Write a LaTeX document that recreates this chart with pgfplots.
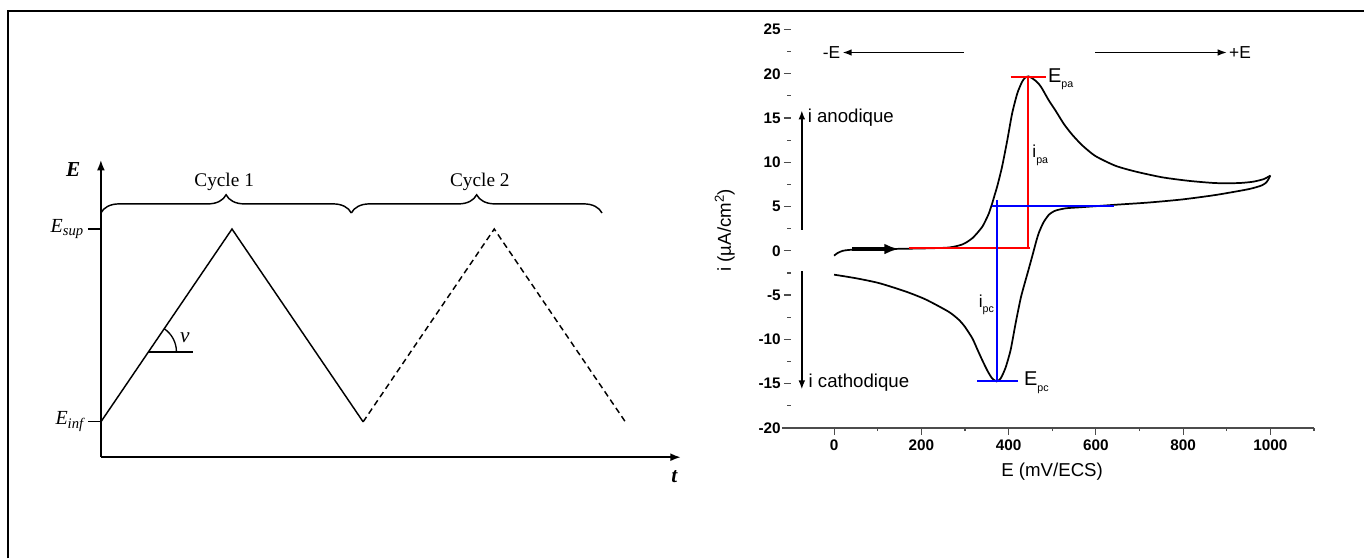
\documentclass[border=0pt]{standalone}
\usepackage{fontspec}
\setmainfont{Liberation Sans}
\newfontfamily\serif{Liberation Serif}
\usepackage{pgfplots}
\pgfplotsset{compat=1.18}
\usetikzlibrary{arrows.meta,decorations.pathreplacing}

\newcommand\sz[1]{\fontsize{#1}{#1}\selectfont}

\begin{document}
\begin{tikzpicture}[x=0.75pt,y=0.75pt]
\path (0,0) rectangle (1365,559);
% frame
\draw[line width=2.2pt] (8,0) -- (8,548) -- (1365,548);
\coordinate (L) at (101,101.3);
\coordinate (R) at (782.6,130.7);

% ---- left: potential waveform
\begin{axis}[
  at={(L)}, anchor=south west,
  scale only axis, width=435.5pt, height=223.3pt,
  xmin=0, xmax=4.424, ymin=-0.1834, ymax=1.359,
  axis lines*=left,
  x axis line style={line width=1.4pt,-{Latex[length=8pt,width=6pt]}},
  y axis line style={line width=1.4pt,-{Latex[length=8pt,width=6pt]}},
  xtick=\empty,
  ytick={0,1},
  yticklabels={{\serif\itshape E\raisebox{-0.4ex}{\sz{11}inf}},{\serif\itshape E\raisebox{-0.4ex}{\sz{11}sup}}},
  yticklabel style={font=\serif\sz{15}},
  ytick pos=left, tick align=outside, major tick length=9.75pt,
  tick style={line width=0.9pt,black},
  clip=false,
]
\addplot[black, line width=1.1pt] coordinates {(0,0) (1,1) (2,0)};
\addplot[black, line width=1.1pt, dash pattern=on 4.5pt off 3pt] coordinates {(2,0) (3,1) (4,0)};
\draw[line width=1.1pt, decorate, decoration={brace, amplitude=13.7pt}] (axis cs:0,1.083) -- (axis cs:1.91,1.083);
\draw[line width=1.1pt, decorate, decoration={brace, amplitude=13.7pt}] (axis cs:1.91,1.083) -- (axis cs:3.822,1.083);
\node[font=\serif\sz{14.5}] at (axis cs:0.94,1.244) {Cycle 1};
\node[font=\serif\sz{14.5}] at (axis cs:2.89,1.244) {Cycle 2};
\draw[line width=1.1pt] (axis cs:0.363,0.363) -- (axis cs:0.699,0.363);
\draw[line width=1pt] (axis cs:0.363,0.363) ++(0:21pt) arc[start angle=0, end angle=56, radius=21pt];
\node[font=\serif\itshape\sz{16}] at (axis cs:0.64,0.435) {ν};
\node[font=\serif\bfseries\itshape\sz{16}] at (axis cs:-0.211,1.311) {E};
\node[font=\serif\bfseries\itshape\sz{16}] at (axis cs:4.373,-0.282) {t};
\end{axis}

% ---- right: cyclic voltammogram
\begin{axis}[
  at={(R)}, anchor=south west,
  scale only axis, width=399.6pt, height=299.1pt,
  xmin=-120, xmax=1100, ymin=-20, ymax=25,
  axis x line*=bottom, axis y line*=left,
  y axis line style={draw=none},
  x axis line style={line width=1.3pt, draw=black!70},
  xtick={0,200,...,1000}, minor xtick={100,300,...,1100},
  ytick={-20,-15,...,25}, minor ytick={-17.5,-12.5,...,22.5},
  tick align=outside, major tick length=5.25pt, minor tick length=2.5pt,
  tick style={line width=0.9pt, black!70},
  y tick style={xshift=6.75pt},
  /pgf/number format/assume math mode=true,
  /pgf/number format/1000 sep={},
  ticklabel style={font=\bfseries\sz{11.5}},
  yticklabel style={xshift=8pt},
  xlabel={E (mV/ECS)},
  ylabel={i (µA/cm\textsuperscript{2})},
  label style={font=\sz{14}},
  xlabel style={at={(axis description cs:0.508,-0.111)}, anchor=center},
  ylabel style={at={(axis description cs:-0.107,0.496)}, anchor=center},
  clip=false,
]
% forward scan
\addplot[black, line width=1.3pt, smooth, tension=0.4] coordinates {
(0,-0.55)(8,-0.25)(20,0.0)(35,0.1)(60,0.15)(100,0.18)(150,0.22)(200,0.26)
(245,0.32)(265,0.38)(280,0.52)(294,0.72)(305,1.0)(317,1.43)(328,2.0)(340,2.74)
(348,3.5)(355,4.25)(362,5.3)(368,6.3)(374,7.3)(385,9.5)(397,12.5)(408,15.5)
(420,17.8)(431,19.1)(438,19.55)(445,19.7)(452,19.55)(462,19.2)(470,18.8)(477,18.3)
(492,17.0)(508,15.8)(527,14.3)(546,13.1)(569,11.9)(599,10.7)(645,9.6)(691,8.95)
(752,8.3)(813,7.9)(874,7.65)(927,7.65)(960,7.8)(985,8.1)(1000,8.5)};
% reverse scan
\addplot[black, line width=1.3pt, smooth, tension=0.4] coordinates {
(1000,8.5)(992,7.8)(981,7.4)(950,6.96)(874,6.3)(798,5.8)(721,5.45)(645,5.2)
(569,4.93)(531,4.8)(508,4.55)(500,4.35)(492,4.06)(481,3.3)(475,2.7)(469,2.0)
(464,1.2)(458,0.1)(452,-1.0)(443,-2.6)(435,-4.0)(427.5,-5.4)(416,-8.2)(404.6,-11.2)
(393,-13.2)(382,-14.4)(372.5,-14.75)(362,-14.4)(352,-13.6)(340,-12.4)(328,-11.1)
(317,-9.9)(300,-8.6)(286,-7.8)(263,-6.9)(210,-5.5)(164,-4.6)(103,-3.65)(50,-3.1)(0,-2.7)};
% anodic peak construction
\addplot[red, line width=1.4pt] coordinates {(404.6,19.6) (484.7,19.6)};
\addplot[red, line width=1.4pt] coordinates {(444.2,19.6) (444.2,0.3)};
\addplot[red, line width=1.4pt] coordinates {(171.7,0.3) (448.8,0.3)};
% cathodic peak construction
\addplot[blue, line width=1.4pt] coordinates {(361,5.1) (641,5.1)};
\addplot[blue, line width=1.6pt] coordinates {(373,5.75) (373,-14.7)};
\addplot[blue, line width=1.4pt] coordinates {(328,-14.7) (422,-14.7)};
% scan direction arrows
\draw[line width=2.6pt, -{Latex[length=11pt,width=8pt]}] (axis cs:41,0.2) -- (axis cs:149,0.2);
\draw[line width=1.2pt, -{Latex[length=7pt,width=5pt]}] (axis cs:297.7,22.4) -- (axis cs:19,22.4)
  node[anchor=east, inner sep=1pt, font=\sz{13}] {-E};
\draw[line width=1.2pt, -{Latex[length=7pt,width=5pt]}] (axis cs:599,22.4) -- (axis cs:900.6,22.4)
  node[anchor=west, inner sep=1pt, font=\sz{13}] {+E};
\draw[line width=1.5pt, -{Latex[length=7pt,width=5pt]}] (axis cs:-74,2.4) -- (axis cs:-74,15.9);
\draw[line width=1.5pt, -{Latex[length=7pt,width=5pt]}] (axis cs:-74,-2.3) -- (axis cs:-74,-15.7);
\node[anchor=west, inner sep=0pt, font=\sz{14}] at (axis cs:-61,15.0) {i anodique};
\node[anchor=west, inner sep=0pt, font=\sz{14}] at (axis cs:-59,-14.9) {i cathodique};
\node[anchor=west, inner sep=0pt, font=\sz{15}] at (axis cs:490,19.4) {E\raisebox{-4pt}{\sz{8}pa}};
\node[anchor=west, inner sep=0pt, font=\sz{15}] at (axis cs:435,-14.9) {E\raisebox{-4pt}{\sz{8}pc}};
\node[anchor=west, inner sep=0pt, font=\sz{13}] at (axis cs:454,10.8) {i\raisebox{-4pt}{\sz{8}pa}};
\node[anchor=west, inner sep=0pt, font=\sz{13}] at (axis cs:331,-6.1) {i\raisebox{-4pt}{\sz{8}pc}};
\end{axis}
\end{tikzpicture}
\end{document}
